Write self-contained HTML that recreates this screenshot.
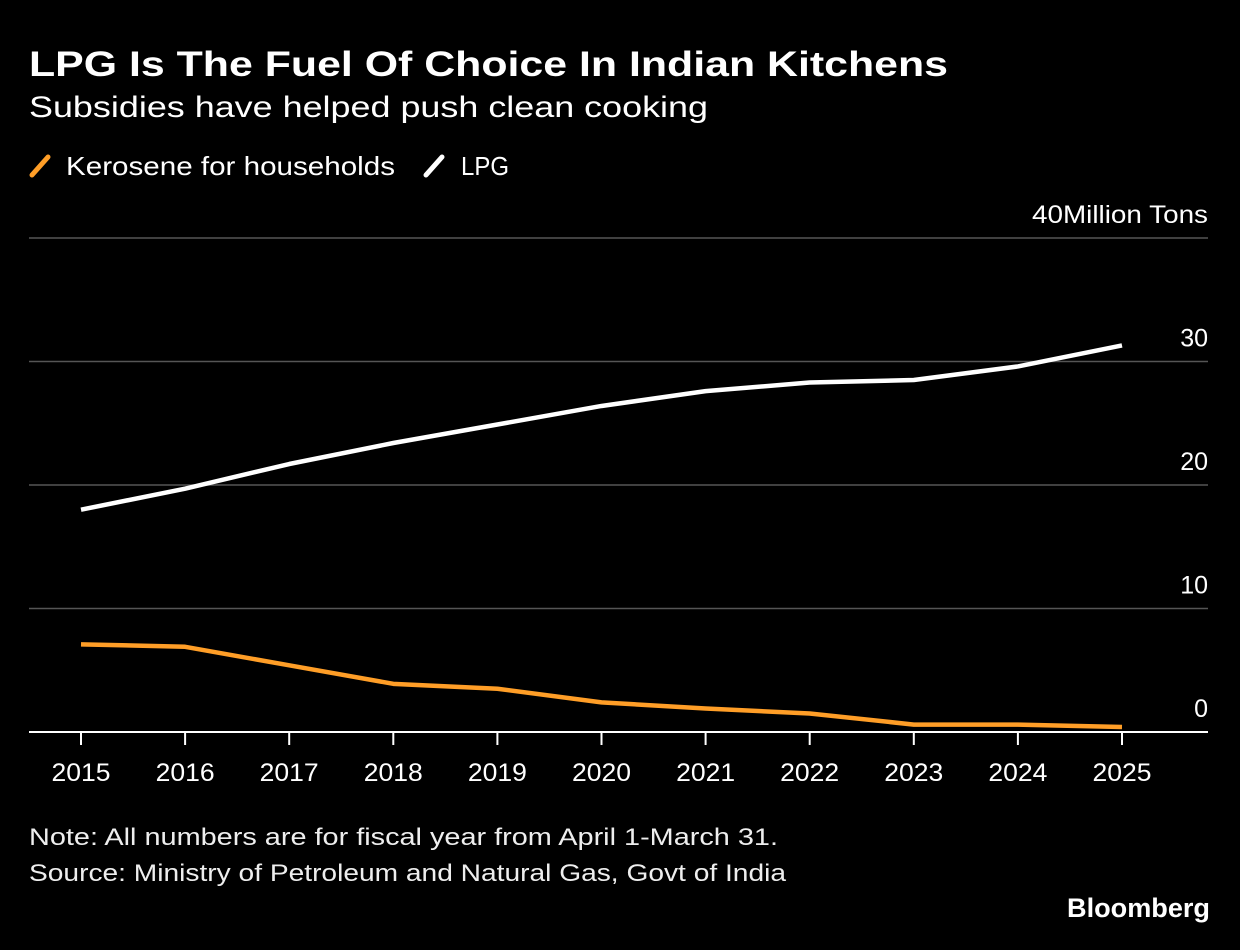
<!DOCTYPE html>
<html><head><meta charset="utf-8"><style>
html,body{margin:0;padding:0;background:#000;}
svg{display:block;font-family:"Liberation Sans",sans-serif;}
</style></head><body>
<svg id="chart" width="1240" height="950" viewBox="0 0 1240 950">
<rect width="1240" height="950" fill="#000"/>
<text x="29" y="76" fill="#fff" font-size="35" font-weight="bold" textLength="919" lengthAdjust="spacingAndGlyphs">LPG Is The Fuel Of Choice In Indian Kitchens</text>
<text x="29" y="117" fill="#fff" font-size="30" textLength="679" lengthAdjust="spacingAndGlyphs">Subsidies have helped push clean cooking</text>
<g>
<line x1="32" y1="175" x2="48" y2="157" stroke="#ff9e27" stroke-width="5" stroke-linecap="round"/>
<text x="66" y="175" fill="#fff" font-size="26" textLength="329" lengthAdjust="spacingAndGlyphs">Kerosene for households</text>
<line x1="426" y1="175" x2="442" y2="157" stroke="#fff" stroke-width="5" stroke-linecap="round"/>
<text x="461" y="175" fill="#fff" font-size="26" textLength="48" lengthAdjust="spacingAndGlyphs">LPG</text>
</g>
<g id="grid"></g><g id="xaxis"></g><g id="series"></g>
<text x="29" y="845" fill="#eee" font-size="24" textLength="749" lengthAdjust="spacingAndGlyphs">Note: All numbers are for fiscal year from April 1-March 31.</text>
<text x="29" y="881" fill="#eee" font-size="24" textLength="757" lengthAdjust="spacingAndGlyphs">Source: Ministry of Petroleum and Natural Gas, Govt of India</text>
<text x="1210" y="917" fill="#fff" font-size="27" font-weight="bold" text-anchor="end" textLength="143" lengthAdjust="spacingAndGlyphs">Bloomberg</text>
</svg>
<script>
const years=[2015,2016,2017,2018,2019,2020,2021,2022,2023,2024,2025];
const lpg=[18.0,19.7,21.7,23.4,24.9,26.4,27.6,28.3,28.5,29.6,31.3];
const kerosene=[7.1,6.9,5.4,3.9,3.5,2.4,1.9,1.5,0.6,0.6,0.4];
const yTicks=[0,10,20,30,40];
const yTickLabels=["0","10","20","30","40Million Tons"];
const NS="http://www.w3.org/2000/svg";
function x(i){return 81+(1122-81)*i/(years.length-1);}
function y(v){return 732-v*12.35;}
function mk(tag,attrs,parent,txt){const e=document.createElementNS(NS,tag);for(const k in attrs)e.setAttribute(k,attrs[k]);if(txt!=null)e.textContent=txt;parent.appendChild(e);return e;}
const grid=document.getElementById('grid');
yTicks.forEach((t,i)=>{
  if(t!==0){const l=mk('line',{x1:29,x2:1208,y1:y(t),y2:y(t),stroke:'#555','stroke-width':1.5},grid);
  
  }
  const attrs={x:1208,y:y(t)-15,fill:'#fff','font-size':25,'text-anchor':'end'};
  if(t===40){attrs.textLength=176;attrs.lengthAdjust='spacingAndGlyphs';}
  const tx=mk('text',attrs,grid,yTickLabels[i]);
  
  
});
const xa=document.getElementById('xaxis');
const base=mk('line',{x1:29,x2:1208,y1:732,y2:732,stroke:'#fff','stroke-width':2},xa);


years.forEach((yr,i)=>{
  const tk=mk('line',{x1:x(i),x2:x(i),y1:732,y2:745,stroke:'#fff','stroke-width':2},xa);
  
  
  const lb=mk('text',{x:x(i),y:781,fill:'#fff','font-size':25,'text-anchor':'middle',textLength:59,lengthAdjust:'spacingAndGlyphs'},xa,String(yr));
  
  
});
const s=document.getElementById('series');
function line(vals,color,name){
  const p=mk('polyline',{points:vals.map((v,i)=>x(i)+','+y(v)).join(' '),fill:'none',stroke:color,'stroke-width':4.5,'stroke-linejoin':'round'},s);
  
  
}
line(kerosene,'#ff9e27','kerosene-line');
line(lpg,'#ffffff','lpg-line');
</script>
</body></html>
